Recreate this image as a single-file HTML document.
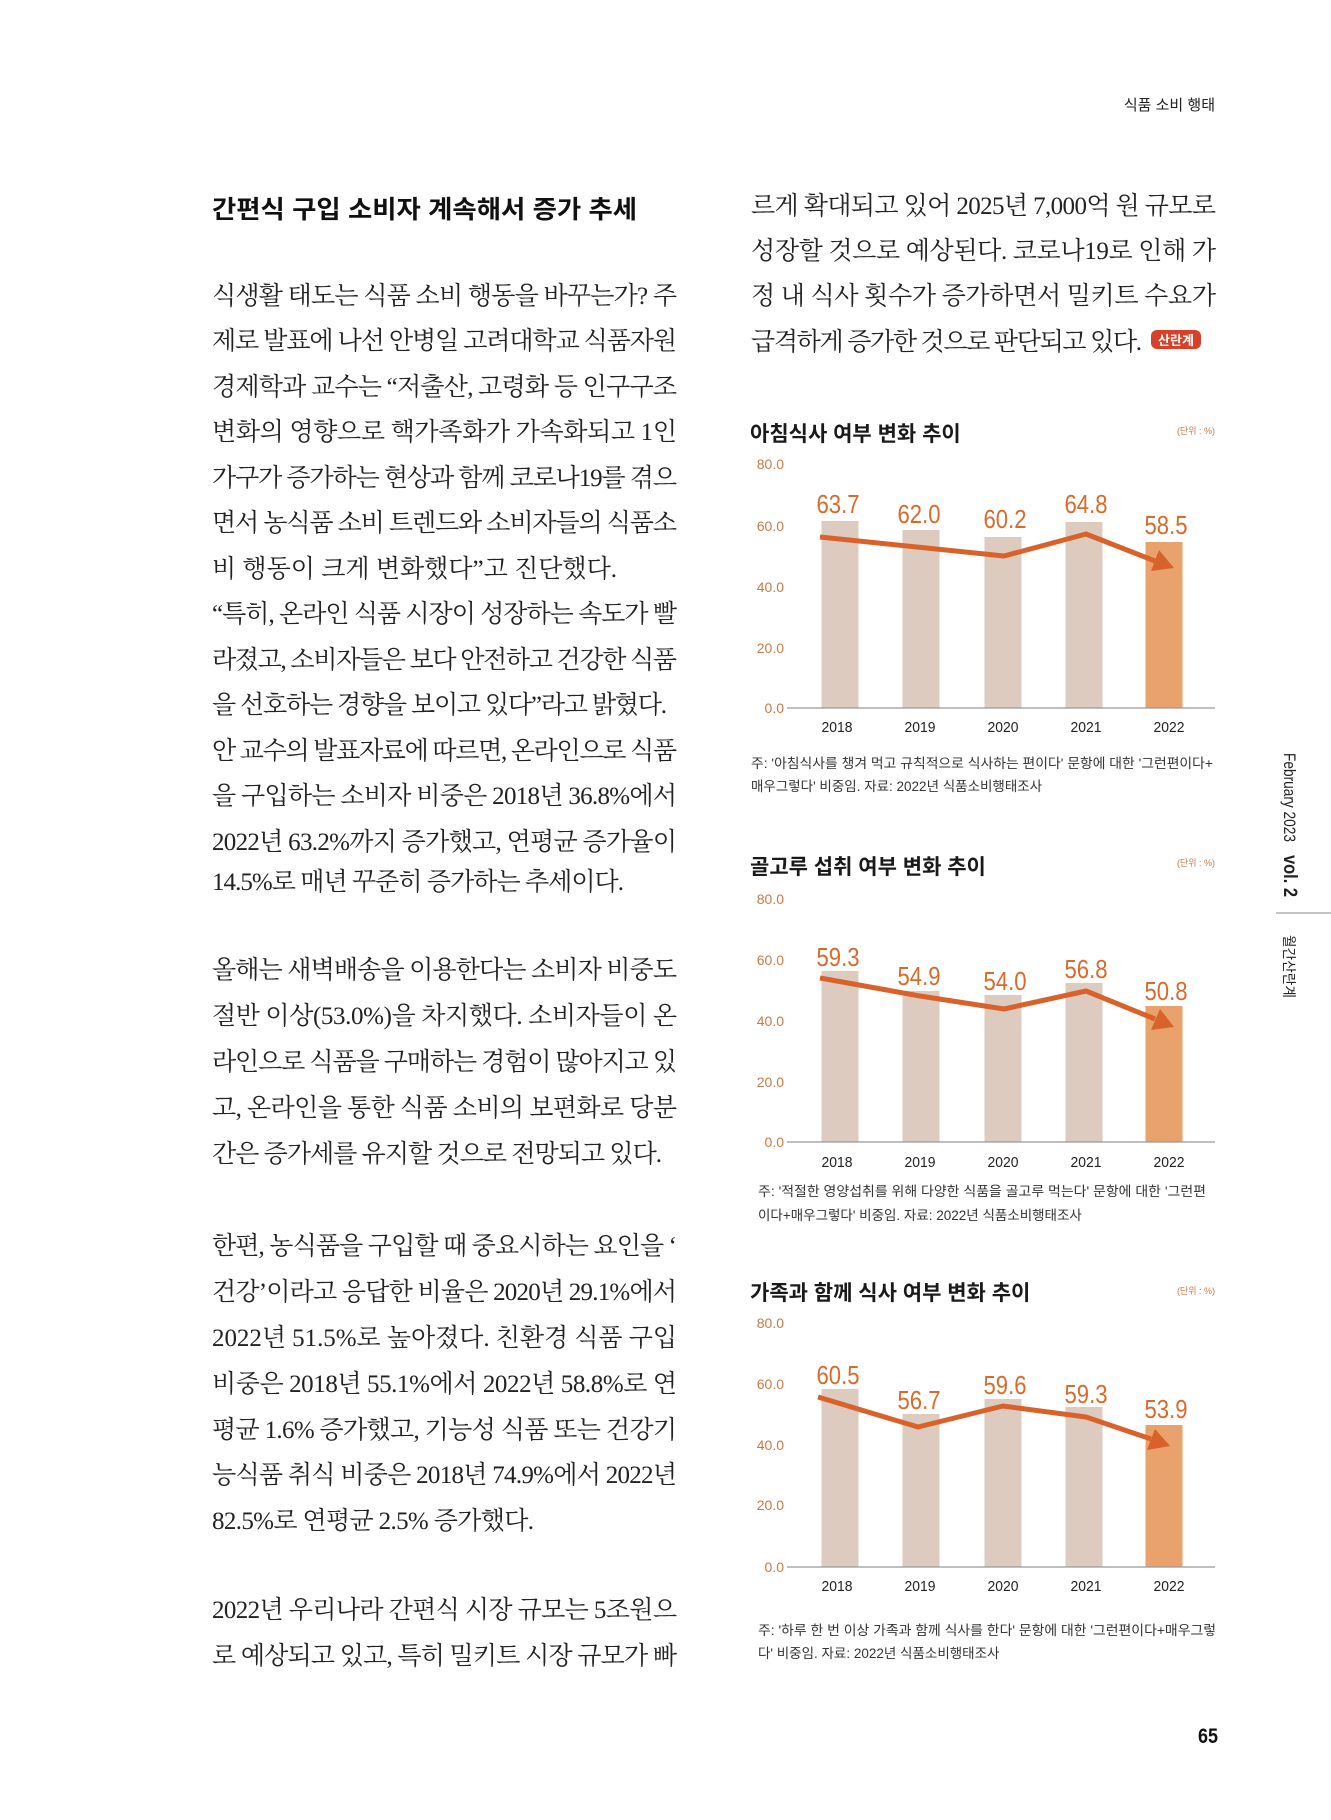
<!DOCTYPE html>
<html><head><meta charset="utf-8"><style>
html,body{margin:0;padding:0;background:#fff;}
svg{display:block;}
.b{font-family:"Liberation Serif","Noto Serif CJK SC",serif;font-size:25px;fill:#222;}
.s{font-family:"Liberation Sans","Noto Sans CJK KR",sans-serif;}
.t{font-size:21px;font-weight:bold;fill:#1a1a1a;}
.ax{font-size:14px;fill:#c97a45;}
.yr{font-size:15px;fill:#222;}
.v{font-size:26px;fill:#d96a2c;}
.n{font-size:13.5px;fill:#333;}
.u{font-size:9px;fill:#c97a45;}
</style></head><body>
<svg width="1331" height="1820" viewBox="0 0 1331 1820" xmlns="http://www.w3.org/2000/svg">
<rect width="1331" height="1820" fill="#fff"/>
<text class="s" x="1215" y="110" font-size="15" fill="#222" text-anchor="end">식품 소비 행태</text>

<text class="s" x="212" y="218" font-size="25" font-weight="bold" fill="#111" textLength="425" lengthAdjust="spacingAndGlyphs">간편식 구입 소비자 계속해서 증가 추세</text>

<g class="b">
<text x="212" y="304" textLength="465" lengthAdjust="spacing">식생활 태도는 식품 소비 행동을 바꾸는가? 주</text>
<text x="212" y="349" textLength="465" lengthAdjust="spacing">제로 발표에 나선 안병일 고려대학교 식품자원</text>
<text x="212" y="395" textLength="465" lengthAdjust="spacing">경제학과 교수는 “저출산, 고령화 등 인구구조</text>
<text x="212" y="440" textLength="465" lengthAdjust="spacing">변화의 영향으로 핵가족화가 가속화되고 1인</text>
<text x="212" y="486" textLength="465" lengthAdjust="spacing">가구가 증가하는 현상과 함께 코로나19를 겪으</text>
<text x="212" y="531" textLength="465" lengthAdjust="spacing">면서 농식품 소비 트렌드와 소비자들의 식품소</text>
<text x="212" y="577" textLength="405" lengthAdjust="spacing">비 행동이 크게 변화했다”고 진단했다.</text>
<text x="212" y="622" textLength="465" lengthAdjust="spacing">“특히, 온라인 식품 시장이 성장하는 속도가 빨</text>
<text x="212" y="668" textLength="465" lengthAdjust="spacing">라졌고, 소비자들은 보다 안전하고 건강한 식품</text>
<text x="212" y="713" textLength="455" lengthAdjust="spacing">을 선호하는 경향을 보이고 있다”라고 밝혔다.</text>
<text x="212" y="759" textLength="465" lengthAdjust="spacing">안 교수의 발표자료에 따르면, 온라인으로 식품</text>
<text x="212" y="804" textLength="465" lengthAdjust="spacing">을 구입하는 소비자 비중은 2018년 36.8%에서</text>
<text x="212" y="850" textLength="465" lengthAdjust="spacing">2022년 63.2%까지 증가했고, 연평균 증가율이</text>
<text x="212" y="890" textLength="412" lengthAdjust="spacing">14.5%로 매년 꾸준히 증가하는 추세이다.</text>

<text x="212" y="978" textLength="465" lengthAdjust="spacing">올해는 새벽배송을 이용한다는 소비자 비중도</text>
<text x="212" y="1024" textLength="465" lengthAdjust="spacing">절반 이상(53.0%)을 차지했다. 소비자들이 온</text>
<text x="212" y="1070" textLength="465" lengthAdjust="spacing">라인으로 식품을 구매하는 경험이 많아지고 있</text>
<text x="212" y="1116" textLength="465" lengthAdjust="spacing">고, 온라인을 통한 식품 소비의 보편화로 당분</text>
<text x="212" y="1162" textLength="450" lengthAdjust="spacing">간은 증가세를 유지할 것으로 전망되고 있다.</text>

<text x="212" y="1254" textLength="465" lengthAdjust="spacing">한편, 농식품을 구입할 때 중요시하는 요인을 ‘</text>
<text x="212" y="1300" textLength="465" lengthAdjust="spacing">건강’이라고 응답한 비율은 2020년 29.1%에서</text>
<text x="212" y="1346" textLength="465" lengthAdjust="spacing">2022년 51.5%로 높아졌다. 친환경 식품 구입</text>
<text x="212" y="1392" textLength="465" lengthAdjust="spacing">비중은 2018년 55.1%에서 2022년 58.8%로 연</text>
<text x="212" y="1438" textLength="465" lengthAdjust="spacing">평균 1.6% 증가했고, 기능성 식품 또는 건강기</text>
<text x="212" y="1483" textLength="465" lengthAdjust="spacing">능식품 취식 비중은 2018년 74.9%에서 2022년</text>
<text x="212" y="1529" textLength="322" lengthAdjust="spacing">82.5%로 연평균 2.5% 증가했다.</text>

<text x="212" y="1618" textLength="465" lengthAdjust="spacing">2022년 우리나라 간편식 시장 규모는 5조원으</text>
<text x="212" y="1664" textLength="465" lengthAdjust="spacing">로 예상되고 있고, 특히 밀키트 시장 규모가 빠</text>

<text x="751" y="214" textLength="465" lengthAdjust="spacing">르게 확대되고 있어 2025년 7,000억 원 규모로</text>
<text x="751" y="259" textLength="465" lengthAdjust="spacing">성장할 것으로 예상된다. 코로나19로 인해 가</text>
<text x="751" y="304" textLength="465" lengthAdjust="spacing">정 내 식사 횟수가 증가하면서 밀키트 수요가</text>
<text x="751" y="350" textLength="391" lengthAdjust="spacing">급격하게 증가한 것으로 판단되고 있다.</text>
</g>
<rect x="1151" y="330" width="50" height="19" rx="6" fill="#d8402a"/>
<text class="s" x="1176" y="345" font-size="13" font-weight="bold" fill="#fff" text-anchor="middle">산란계</text>

<!-- Chart 1 -->
<g class="s">
<text class="t" x="750" y="441">아침식사 여부 변화 추이</text>
<text class="u" x="1215" y="434" text-anchor="end">(단위 : %)</text>
<g class="ax" text-anchor="end">
<text x="784" y="469">80.0</text><text x="784" y="531">60.0</text><text x="784" y="592">40.0</text><text x="784" y="653">20.0</text><text x="784" y="713">0.0</text>
</g>
<rect x="821.5" y="521" width="37" height="187" fill="#dccbbe"/>
<rect x="902.5" y="530" width="37" height="178" fill="#dccbbe"/>
<rect x="984.5" y="537" width="37" height="171" fill="#dccbbe"/>
<rect x="1065.5" y="522" width="37" height="186" fill="#dccbbe"/>
<rect x="1145.5" y="542" width="37" height="166" fill="#e9a26c"/>
<line x1="787" y1="708" x2="1215" y2="708" stroke="#999" stroke-width="1.2"/>
<polyline points="820,537 1004,556 1086,534 1155,561" fill="none" stroke="#d9622b" stroke-width="5" stroke-linejoin="round"/>
<polygon points="1174,568 1151,571 1159,550" fill="#d9622b"/>
<g class="v" text-anchor="middle">
<text x="838" y="513" textLength="43" lengthAdjust="spacingAndGlyphs">63.7</text><text x="919" y="523" textLength="43" lengthAdjust="spacingAndGlyphs">62.0</text><text x="1005" y="528" textLength="43" lengthAdjust="spacingAndGlyphs">60.2</text><text x="1086" y="513" textLength="43" lengthAdjust="spacingAndGlyphs">64.8</text><text x="1166" y="534" textLength="43" lengthAdjust="spacingAndGlyphs">58.5</text>
</g>
<g class="yr" text-anchor="middle">
<text x="837" y="732" textLength="31" lengthAdjust="spacingAndGlyphs">2018</text><text x="920" y="732" textLength="31" lengthAdjust="spacingAndGlyphs">2019</text><text x="1003" y="732" textLength="31" lengthAdjust="spacingAndGlyphs">2020</text><text x="1086" y="732" textLength="31" lengthAdjust="spacingAndGlyphs">2021</text><text x="1169" y="732" textLength="31" lengthAdjust="spacingAndGlyphs">2022</text>
</g>
<text class="n" x="751" y="768" textLength="462" lengthAdjust="spacingAndGlyphs">주: '아침식사를 챙겨 먹고 규칙적으로 식사하는 편이다' 문항에 대한 '그런편이다+</text>
<text class="n" x="751" y="791">매우그렇다' 비중임. 자료: 2022년 식품소비행태조사</text>
</g>

<!-- Chart 2 -->
<g class="s">
<text class="t" x="750" y="874">골고루 섭취 여부 변화 추이</text>
<text class="u" x="1215" y="866" text-anchor="end">(단위 : %)</text>
<g class="ax" text-anchor="end">
<text x="784" y="904">80.0</text><text x="784" y="965">60.0</text><text x="784" y="1026">40.0</text><text x="784" y="1087">20.0</text><text x="784" y="1147">0.0</text>
</g>
<rect x="821.5" y="971" width="37" height="171" fill="#dccbbe"/>
<rect x="902.5" y="991" width="37" height="151" fill="#dccbbe"/>
<rect x="984.5" y="995" width="37" height="147" fill="#dccbbe"/>
<rect x="1065.5" y="983" width="37" height="159" fill="#dccbbe"/>
<rect x="1145.5" y="1006" width="37" height="136" fill="#e9a26c"/>
<line x1="787" y1="1142" x2="1215" y2="1142" stroke="#999" stroke-width="1.2"/>
<polyline points="820,978 920,996 1004,1009 1086,991 1155,1019" fill="none" stroke="#d9622b" stroke-width="5" stroke-linejoin="round"/>
<polygon points="1174,1027 1151,1030 1160,1009" fill="#d9622b"/>
<g class="v" text-anchor="middle">
<text x="838" y="966" textLength="43" lengthAdjust="spacingAndGlyphs">59.3</text><text x="919" y="985" textLength="43" lengthAdjust="spacingAndGlyphs">54.9</text><text x="1005" y="990" textLength="43" lengthAdjust="spacingAndGlyphs">54.0</text><text x="1086" y="978" textLength="43" lengthAdjust="spacingAndGlyphs">56.8</text><text x="1166" y="1000" textLength="43" lengthAdjust="spacingAndGlyphs">50.8</text>
</g>
<g class="yr" text-anchor="middle">
<text x="837" y="1167" textLength="31" lengthAdjust="spacingAndGlyphs">2018</text><text x="920" y="1167" textLength="31" lengthAdjust="spacingAndGlyphs">2019</text><text x="1003" y="1167" textLength="31" lengthAdjust="spacingAndGlyphs">2020</text><text x="1086" y="1167" textLength="31" lengthAdjust="spacingAndGlyphs">2021</text><text x="1169" y="1167" textLength="31" lengthAdjust="spacingAndGlyphs">2022</text>
</g>
<text class="n" x="758" y="1196" textLength="448" lengthAdjust="spacingAndGlyphs">주: '적절한 영양섭취를 위해 다양한 식품을 골고루 먹는다' 문항에 대한 '그런편</text>
<text class="n" x="758" y="1220">이다+매우그렇다' 비중임. 자료: 2022년 식품소비행태조사</text>
</g>

<!-- Chart 3 -->
<g class="s">
<text class="t" x="750" y="1300">가족과 함께 식사 여부 변화 추이</text>
<text class="u" x="1215" y="1294" text-anchor="end">(단위 : %)</text>
<g class="ax" text-anchor="end">
<text x="784" y="1328">80.0</text><text x="784" y="1389">60.0</text><text x="784" y="1450">40.0</text><text x="784" y="1510">20.0</text><text x="784" y="1572">0.0</text>
</g>
<rect x="821.5" y="1389" width="37" height="178" fill="#dccbbe"/>
<rect x="902.5" y="1414" width="37" height="153" fill="#dccbbe"/>
<rect x="984.5" y="1399" width="37" height="168" fill="#dccbbe"/>
<rect x="1065.5" y="1407" width="37" height="160" fill="#dccbbe"/>
<rect x="1145.5" y="1425" width="37" height="142" fill="#e9a26c"/>
<line x1="787" y1="1567" x2="1215" y2="1567" stroke="#999" stroke-width="1.2"/>
<polyline points="818,1397 918,1427 1003,1406 1086,1417 1151,1439" fill="none" stroke="#d9622b" stroke-width="5" stroke-linejoin="round"/>
<polygon points="1170,1446 1147,1450 1155,1429" fill="#d9622b"/>
<g class="v" text-anchor="middle">
<text x="838" y="1384" textLength="43" lengthAdjust="spacingAndGlyphs">60.5</text><text x="919" y="1409" textLength="43" lengthAdjust="spacingAndGlyphs">56.7</text><text x="1005" y="1394" textLength="43" lengthAdjust="spacingAndGlyphs">59.6</text><text x="1086" y="1403" textLength="43" lengthAdjust="spacingAndGlyphs">59.3</text><text x="1166" y="1418" textLength="43" lengthAdjust="spacingAndGlyphs">53.9</text>
</g>
<g class="yr" text-anchor="middle">
<text x="837" y="1591" textLength="31" lengthAdjust="spacingAndGlyphs">2018</text><text x="920" y="1591" textLength="31" lengthAdjust="spacingAndGlyphs">2019</text><text x="1003" y="1591" textLength="31" lengthAdjust="spacingAndGlyphs">2020</text><text x="1086" y="1591" textLength="31" lengthAdjust="spacingAndGlyphs">2021</text><text x="1169" y="1591" textLength="31" lengthAdjust="spacingAndGlyphs">2022</text>
</g>
<text class="n" x="758" y="1635" textLength="458" lengthAdjust="spacingAndGlyphs">주: '하루 한 번 이상 가족과 함께 식사를 한다' 문항에 대한 '그런편이다+매우그렇</text>
<text class="n" x="758" y="1658">다' 비중임. 자료: 2022년 식품소비행태조사</text>
</g>

<!-- sidebar -->
<g class="s" fill="#222">
<text transform="translate(1284,753) rotate(90)" font-size="17" textLength="89" lengthAdjust="spacingAndGlyphs">February 2023</text>
<text transform="translate(1284,855) rotate(90)" font-size="19" font-weight="bold" textLength="42" lengthAdjust="spacingAndGlyphs">vol. 2</text>
<text transform="translate(1284,935) rotate(90)" font-size="14" textLength="63" lengthAdjust="spacingAndGlyphs">월간산란계</text>
</g>
<line x1="1276" y1="913" x2="1331" y2="913" stroke="#888" stroke-width="1"/>

<text class="s" x="1198" y="1743" font-size="21" font-weight="bold" fill="#111" textLength="20" lengthAdjust="spacingAndGlyphs">65</text>
</svg>
</body></html>
